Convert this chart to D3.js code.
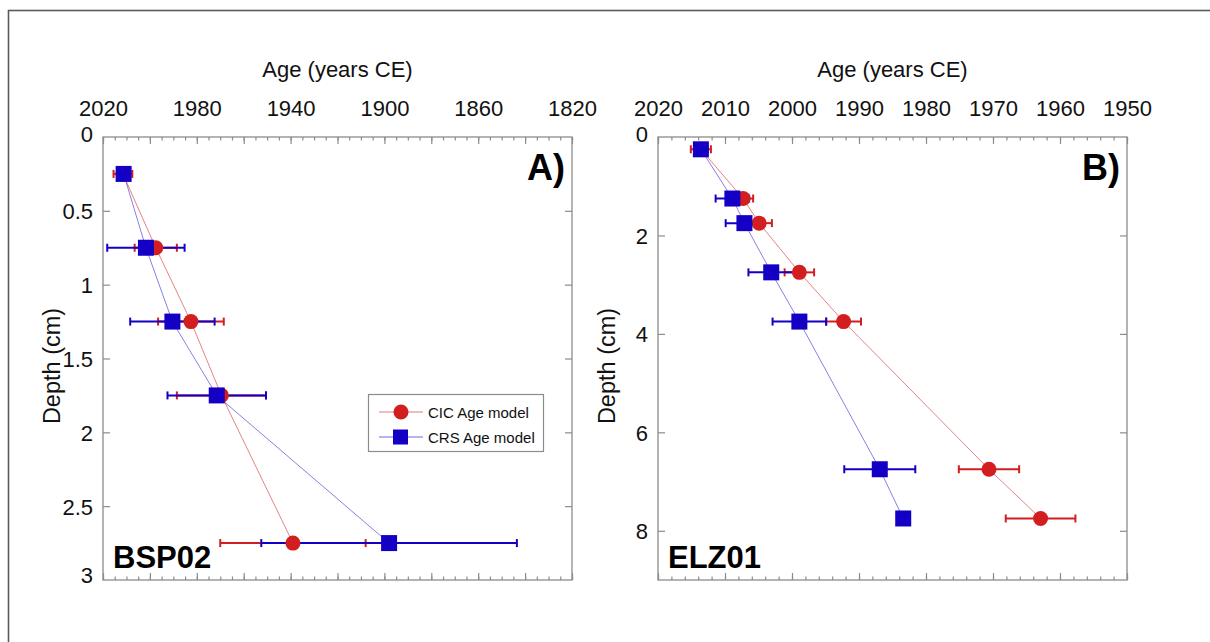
<!DOCTYPE html>
<html>
<head>
<meta charset="utf-8">
<script src="https://cdn.jsdelivr.net/npm/d3@7/dist/d3.min.js"></script>
<style>
  html, body { margin: 0; padding: 0; background: #fff; }
  svg { display: block; font-family: "Liberation Sans", Arial, Helvetica, sans-serif; }
</style>
</head>
<body>
<svg id="chart" width="1210" height="642"></svg>
<script>
// ---- Core BSP02 (panel A) ----
const depthA  = [0.25, 0.75, 1.25, 1.75, 2.75];
const cicAgeA = [2011.5, 1997.5, 1982.5, 1969.5, 1939];
const cicErrA = [4, 9, 14, 19, 31];
const crsAgeA = [2011.2, 2001.7, 1990.4, 1971.5, 1898];
const crsErrA = [2, 16.5, 18, 21, 54.5];

// ---- Core ELZ01 (panel B) ----
const depthB  = [0.25, 1.25, 1.75, 2.75, 3.75, 6.75, 7.75];
const cicAgeB = [2013.6, 2007.3, 2004.9, 1998.9, 1992.3, 1970.6, 1962.9];
const cicErrB = [1.5, 1.5, 1.9, 2.2, 2.6, 4.5, 5.2];
const crsAgeB = [2013.6, 2008.9, 2007.1, 2003.1, 1998.9, 1986.9, 1983.4];
const crsErrB = [1, 2.5, 2.8, 3.4, 4, 5.3, 0];

// ---- Axis ticks ----
const ageLabelsA = [2020, 1980, 1940, 1900, 1860, 1820];
const ageLabelsB = [2020, 2010, 2000, 1990, 1980, 1970, 1960, 1950];
const depthTicksA = [0, 0.5, 1, 1.5, 2, 2.5, 3];
const depthTicksB = [0, 2, 4, 6, 8];

const seriesNames = ["CIC Age model", "CRS Age model"];
const xTitle = "Age (years CE)";
const yTitle = "Depth (cm)";

const RED = "#d21e1e";
const BLUE = "#1400c4";
const AXIS = "#8c8c8c";

const svg = d3.select("#chart");

// outer frame
svg.append("rect")
  .attr("x", 8.5).attr("y", 10.5).attr("width", 1215).attr("height", 645)
  .attr("fill", "none").attr("stroke", "#5a5a5a").attr("stroke-width", 1.6);

function stepRange(a, b, s) {
  return d3.range(0, Math.round(Math.abs(b - a) / s) + 1).map(i => a + Math.sign(b - a) * i * s);
}

function panel(o) {
  const x = d3.scaleLinear().domain(o.ageDomain).range([o.left, o.right]);
  const y = d3.scaleLinear().domain(o.depthDomain).range([o.top, o.bottom]);
  const g = svg.append("g");

  const style = sel => {
    sel.select(".domain").remove();
    sel.selectAll(".tick line").attr("stroke", AXIS).attr("stroke-width", 1.2);
    sel.selectAll("text").attr("fill", "#111").attr("font-size", 22).attr("font-family", null);
  };

  const majors = stepRange(o.ageDomain[0], o.ageDomain[1], o.majorStep);
  const minors = stepRange(o.ageDomain[0], o.ageDomain[1], o.minorStep);

  // top axis: minor, major ticks and labels
  g.append("g").attr("transform", `translate(0,${o.top})`)
    .call(d3.axisTop(x).tickValues(minors).tickSizeInner(-3.5).tickSizeOuter(0).tickFormat("")).call(style);
  g.append("g").attr("transform", `translate(0,${o.top})`)
    .call(d3.axisTop(x).tickValues(majors).tickSizeInner(-7).tickSizeOuter(0).tickFormat("")).call(style);
  g.append("g").attr("transform", `translate(0,${o.top})`)
    .call(d3.axisTop(x).tickValues(o.ageLabels).tickSize(0).tickPadding(21).tickFormat(d3.format("d"))).call(style);

  // bottom axis ticks
  g.append("g").attr("transform", `translate(0,${o.bottom})`)
    .call(d3.axisBottom(x).tickValues(minors).tickSizeInner(-3.5).tickSizeOuter(0).tickFormat("")).call(style);
  g.append("g").attr("transform", `translate(0,${o.bottom})`)
    .call(d3.axisBottom(x).tickValues(majors).tickSizeInner(-7).tickSizeOuter(0).tickFormat("")).call(style);

  // left axis with labels, right axis ticks only
  const left = g.append("g").attr("transform", `translate(${o.left},0)`)
    .call(d3.axisLeft(y).tickValues(o.depthTicks).tickSizeInner(-7).tickSizeOuter(0).tickPadding(10).tickFormat(d => String(d)))
    .call(style);
  left.selectAll(".tick line").filter(d => d === o.depthDomain[0] || d === o.depthDomain[1]).remove();
  left.selectAll(".tick text").attr("dy", d => d === 0 ? o.zeroDy : (d === o.depthDomain[1] ? "0.1em" : "0.36em"));
  const right = g.append("g").attr("transform", `translate(${o.right},0)`)
    .call(d3.axisRight(y).tickValues(o.depthTicks).tickSizeInner(-7).tickSizeOuter(0).tickFormat(""))
    .call(style);
  right.selectAll(".tick line").filter(d => d === o.depthDomain[0] || d === o.depthDomain[1]).remove();

  // plot frame
  g.append("rect")
    .attr("x", o.left).attr("y", o.top)
    .attr("width", o.right - o.left).attr("height", o.bottom - o.top)
    .attr("fill", "none").attr("stroke", AXIS).attr("stroke-width", 1.3);

  // axis titles
  g.append("text")
    .attr("x", (o.left + o.right) / 2).attr("y", 77)
    .attr("text-anchor", "middle").attr("font-size", 22).attr("fill", "#111")
    .text(xTitle);
  g.append("text")
    .attr("transform", `translate(${o.left - 43},${366}) rotate(-90)`)
    .attr("text-anchor", "middle").attr("font-size", 23.5).attr("fill", "#111")
    .text(yTitle);

  // panel letter and core name
  g.append("text")
    .attr("x", o.right - 7).attr("y", 180)
    .attr("text-anchor", "end").attr("font-size", 36).attr("font-weight", "bold").attr("fill", "#000")
    .text(o.letter);
  g.append("text")
    .attr("x", o.left + 10).attr("y", 568)
    .attr("font-size", 31).attr("font-weight", "bold").attr("fill", "#000")
    .text(o.core);

  const cic = o.depth.map((d, i) => ({ depth: d, age: o.cicAge[i], err: o.cicErr[i] }));
  const crs = o.depth.map((d, i) => ({ depth: d, age: o.crsAge[i], err: o.crsErr[i] }));

  const line = d3.line().x(d => x(d.age)).y(d => y(d.depth));
  g.append("path").datum(cic).attr("d", line)
    .attr("fill", "none").attr("stroke", RED).attr("stroke-opacity", 0.55).attr("stroke-width", 1);
  g.append("path").datum(crs).attr("d", line)
    .attr("fill", "none").attr("stroke", BLUE).attr("stroke-opacity", 0.5).attr("stroke-width", 1);

  function errorBars(data, color) {
    const eg = g.append("g").attr("stroke", color).attr("stroke-width", 2);
    const rows = data.filter(d => d.err > 0);
    eg.selectAll("line.bar").data(rows).join("line").attr("class", "bar")
      .attr("x1", d => x(d.age + d.err)).attr("x2", d => x(d.age - d.err))
      .attr("y1", d => y(d.depth)).attr("y2", d => y(d.depth));
    eg.selectAll("line.capL").data(rows).join("line").attr("class", "capL")
      .attr("x1", d => x(d.age + d.err)).attr("x2", d => x(d.age + d.err))
      .attr("y1", d => y(d.depth) - 4).attr("y2", d => y(d.depth) + 4);
    eg.selectAll("line.capR").data(rows).join("line").attr("class", "capR")
      .attr("x1", d => x(d.age - d.err)).attr("x2", d => x(d.age - d.err))
      .attr("y1", d => y(d.depth) - 4).attr("y2", d => y(d.depth) + 4);
  }
  errorBars(cic, RED);
  errorBars(crs, BLUE);

  g.append("g").selectAll("circle").data(cic).join("circle")
    .attr("cx", d => x(d.age)).attr("cy", d => y(d.depth)).attr("r", 7.5)
    .attr("fill", RED);
  g.append("g").selectAll("rect").data(crs).join("rect")
    .attr("x", d => x(d.age) - 8).attr("y", d => y(d.depth) - 8)
    .attr("width", 16).attr("height", 16).attr("fill", BLUE);
}

panel({
  left: 103, right: 572, top: 137, bottom: 580,
  ageDomain: [2020, 1820], depthDomain: [0, 3],
  majorStep: 20, minorStep: 5,
  ageLabels: ageLabelsA, depthTicks: depthTicksA, zeroDy: "0.2em",
  letter: "A)", core: "BSP02",
  depth: depthA, cicAge: cicAgeA, cicErr: cicErrA, crsAge: crsAgeA, crsErr: crsErrA
});

panel({
  left: 658, right: 1127, top: 137, bottom: 580,
  ageDomain: [2020, 1950], depthDomain: [0, 9],
  majorStep: 10, minorStep: 2,
  ageLabels: ageLabelsB, depthTicks: depthTicksB, zeroDy: "0.2em",
  letter: "B)", core: "ELZ01",
  depth: depthB, cicAge: cicAgeB, cicErr: cicErrB, crsAge: crsAgeB, crsErr: crsErrB
});

// legend inside panel A
const legend = svg.append("g").attr("transform", "translate(368,394)");
legend.append("rect").attr("x", 0.5).attr("y", 0.5).attr("width", 175).attr("height", 57)
  .attr("fill", "#fff").attr("stroke", "#8c8c8c").attr("stroke-width", 1.2);
const legendColors = [RED, BLUE];
seriesNames.forEach((name, i) => {
  const ly = 18 + i * 25;
  legend.append("line").attr("x1", 11).attr("x2", 55).attr("y1", ly).attr("y2", ly)
    .attr("stroke", legendColors[i]).attr("stroke-opacity", 0.6).attr("stroke-width", 1);
  if (i === 0) {
    legend.append("circle").attr("cx", 33).attr("cy", ly).attr("r", 7.5).attr("fill", legendColors[i]);
  } else {
    legend.append("rect").attr("x", 25).attr("y", ly - 7.5).attr("width", 15).attr("height", 15).attr("fill", legendColors[i]);
  }
  legend.append("text").attr("x", 60).attr("y", ly + 5.5)
    .attr("font-size", 15).attr("fill", "#111").text(name);
});
</script>
</body>
</html>
